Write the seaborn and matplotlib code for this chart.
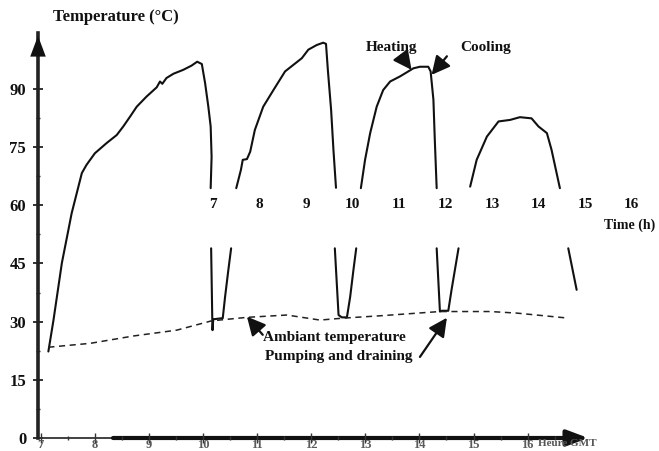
import matplotlib
matplotlib.use("Agg")
import matplotlib.pyplot as plt
import seaborn as sns
import numpy as np
import pandas as pd

# ---------------- data (hours on the "Time (h)" scale, temperature in °C) -------------
heat1_h = [3.46, 3.57, 3.75, 3.89, 3.96, 4.07, 4.18, 4.28, 4.46, 4.71, 4.93, 5.07, 5.22,
           5.36, 5.57, 5.79, 5.86, 5.91, 6.00, 6.15, 6.36, 6.54, 6.66, 6.76, 6.83, 6.90,
           6.95, 6.97, 6.95]
heat1_t = [22.3, 30.4, 45.1, 53.6, 57.9, 63.1, 68.3, 70.4, 73.4, 76.0, 78.1, 80.3, 82.9,
           85.4, 88.0, 90.4, 91.9, 91.3, 92.8, 93.9, 94.9, 96.0, 97.0, 96.4, 91.5, 85.4,
           80.3, 72.5, 64.4]
dip1_h = [6.96, 6.985, 6.99, 7.005, 7.21, 7.26, 7.33, 7.39]
dip1_t = [48.9, 30.4, 27.8, 30.6, 30.9, 36.4, 43.3, 48.9]
heat2_h = [7.50, 7.60, 7.64, 7.73, 7.80, 7.90, 8.08, 8.30, 8.55, 8.73, 8.91, 9.05, 9.23,
           9.37, 9.43, 9.47, 9.54, 9.59, 9.645]
heat2_t = [64.4, 69.1, 71.7, 71.9, 73.8, 79.4, 85.4, 89.7, 94.5, 96.2, 97.9, 100.1, 101.3,
           101.9, 101.6, 94.9, 84.6, 74.3, 64.5]
dip2_h = [9.62, 9.70, 9.77, 9.88, 9.95, 10.02, 10.08]
dip2_t = [48.9, 31.7, 31.1, 31.1, 36.4, 43.3, 48.9]
heat3_h = [10.18, 10.27, 10.38, 10.52, 10.66, 10.81, 11.02, 11.20, 11.31, 11.45, 11.63,
           11.68, 11.74, 11.77, 11.81]
heat3_t = [64.4, 71.7, 78.6, 85.4, 89.7, 91.9, 93.2, 94.5, 95.3, 95.7, 95.7, 94.5, 87.2,
           76.8, 64.4]
dip3_h = [11.81, 11.88, 11.92, 12.06, 12.13, 12.28]
dip3_t = [48.9, 32.6, 32.8, 32.8, 38.2, 48.9]
heat4_h = [12.53, 12.67, 12.89, 13.14, 13.39, 13.60, 13.85, 14.00, 14.18, 14.28, 14.46]
heat4_t = [64.8, 71.7, 77.7, 81.6, 82.0, 82.7, 82.4, 80.3, 78.6, 74.3, 64.4]
cool4_h = [14.64, 14.82]
cool4_t = [48.9, 38.2]

ambient_h = [3.46, 4.36, 5.29, 6.22, 6.97, 7.73, 8.59, 9.30, 9.80, 10.59, 11.88, 12.96,
             13.53, 14.64]
ambient_t = [23.4, 24.4, 26.3, 27.8, 30.2, 31.1, 31.7, 30.4, 30.9, 31.5, 32.6, 32.6,
             32.2, 30.9]

time_ticks = [7, 8, 9, 10, 11, 12, 13, 14, 15, 16]
gmt_ticks = [7, 8, 9, 10, 11, 12, 13, 14, 15, 16]
temp_ticks = [0, 15, 30, 45, 60, 75, 90]

# GMT scale relation (second time axis at the bottom)
GMT_AT_7H = 10.185
GMT_PER_H = 0.8595

segments = [(heat1_h, heat1_t), (dip1_h, dip1_t), (heat2_h, heat2_t), (dip2_h, dip2_t),
            (heat3_h, heat3_t), (dip3_h, dip3_t), (heat4_h, heat4_t), (cool4_h, cool4_t)]
rows = []
for i, (hs, ts) in enumerate(segments):
    for h, t in zip(hs, ts):
        rows.append({"seg": i, "hour": h, "temp": t})
df = pd.DataFrame(rows)
amb = pd.DataFrame({"hour": ambient_h, "temp": ambient_t})

# ---------------- figure ----------------
sns.set_theme(style="white")
plt.rcParams["font.family"] = ["Liberation Serif", "DejaVu Serif"]
plt.rcParams["font.weight"] = "bold"

fig = plt.figure(figsize=(6.59, 4.51), dpi=100)
W, H = 659, 451
ax = fig.add_axes([38 / W, 13 / H, 617 / W, 405 / H])

sns.lineplot(data=df, x="hour", y="temp", units="seg", estimator=None, sort=False,
             color="#111111", lw=1.5, ax=ax)
sns.lineplot(data=amb, x="hour", y="temp", estimator=None, sort=False, color="#222222",
             lw=1.1, linestyle=(0, (4, 3)), ax=ax)

ax.set_xlim(3.237, 16.505)
ax.set_ylim(0, 104.4)
ax.set_facecolor("white")
for s in ["top", "right"]:
    ax.spines[s].set_visible(False)
ax.spines["bottom"].set_position(("data", 60))
ax.spines["bottom"].set_visible(False)
ax.spines["left"].set_linewidth(2.6)
ax.spines["left"].set_color("#222222")

ax.set_yticks(temp_ticks)
ax.set_yticklabels([str(v) for v in temp_ticks])
ax.set_yticks([7.5 + 15 * k for k in range(6)], minor=True)
ax.tick_params(axis="y", which="major", direction="inout", length=7, width=1.2,
               labelsize=12, pad=5, colors="#111111", left=True)
ax.tick_params(axis="y", which="minor", direction="inout", length=3, width=1.0, left=True)

ax.set_xticks(time_ticks)
ax.set_xticklabels([str(v) for v in time_ticks])
ax.tick_params(axis="x", which="both", length=0, pad=-5, labelsize=11, colors="#111111")
ax.set_xlabel("Time (h)", loc="right", fontsize=10, fontweight="bold", labelpad=5,
              color="#111111")
ax.set_ylabel("Temperature (°C)", rotation=0, fontsize=12, fontweight="bold",
              ha="left", va="center", color="#111111")
ax.yaxis.set_label_coords(0.024, 1.040)

# y axis arrow head
ax.annotate("", xy=(0, 1.0), xytext=(0, 0.96), xycoords="axes fraction",
            arrowprops=dict(arrowstyle="-|>,head_length=0.75,head_width=0.28",
                            mutation_scale=20, color="#111111", lw=0))

# bottom GMT axis
def h2g(h):
    return GMT_AT_7H + GMT_PER_H * (np.asarray(h) - 7)

def g2h(g):
    return 7 + (np.asarray(g) - GMT_AT_7H) / GMT_PER_H

ax.plot([3.237, 4.85], [0, 0], color="#333333", lw=1.3, clip_on=False, zorder=1)
ax.annotate("", xy=(15.07, 0), xytext=(4.85, 0), xycoords="data",
            arrowprops=dict(arrowstyle="-|>,head_length=0.8,head_width=0.3",
                            mutation_scale=16, color="#111111", lw=3.0,
                            shrinkA=0, shrinkB=0), annotation_clip=False, zorder=1)

sec = ax.secondary_xaxis(0, functions=(h2g, g2h))
sec.set_zorder(5)
sec.spines["bottom"].set_visible(False)
sec.set_xticks(gmt_ticks)
sec.set_xticklabels([str(v) for v in gmt_ticks])
sec.set_xticks([g + 0.5 for g in gmt_ticks], minor=True)
sec.tick_params(axis="x", which="major", direction="inout", length=7, width=1.0,
                pad=-3, labelsize=9, labelcolor="#5a5a5a", color="#333333")
sec.tick_params(axis="x", which="minor", direction="inout", length=3, width=1.0,
                color="#333333")
ax.text(13.98, -1.5, "Heure GMT", fontsize=8, color="#555555", va="center", ha="left",
        fontweight="bold", zorder=6, clip_on=False)

# annotations
txt = dict(fontsize=11, fontweight="bold", color="#111111")
arr = dict(arrowstyle="-|>,head_length=0.8,head_width=0.4", mutation_scale=14,
           color="#111111", lw=1.6, shrinkA=0, shrinkB=0)
ax.text(10.83, 100.6, "Heating", ha="center", va="center", **txt)
ax.annotate("", xy=(11.27, 94.9), xytext=(11.04, 98.6), arrowprops=arr)
ax.text(12.87, 100.6, "Cooling", ha="center", va="center", **txt)
ax.annotate("", xy=(11.70, 93.6), xytext=(12.03, 98.4), arrowprops=arr)
ax.text(8.07, 25.8, "Ambiant temperature", ha="left", va="center", **txt)
ax.text(8.12, 20.9, "Pumping and draining", ha="left", va="center", **txt)
ax.annotate("", xy=(7.73, 31.3), xytext=(8.07, 26.6), arrowprops=arr)
ax.annotate("", xy=(12.03, 31.0), xytext=(11.45, 20.9), arrowprops=arr)

fig.savefig("out.png", dpi=100, facecolor="white")
